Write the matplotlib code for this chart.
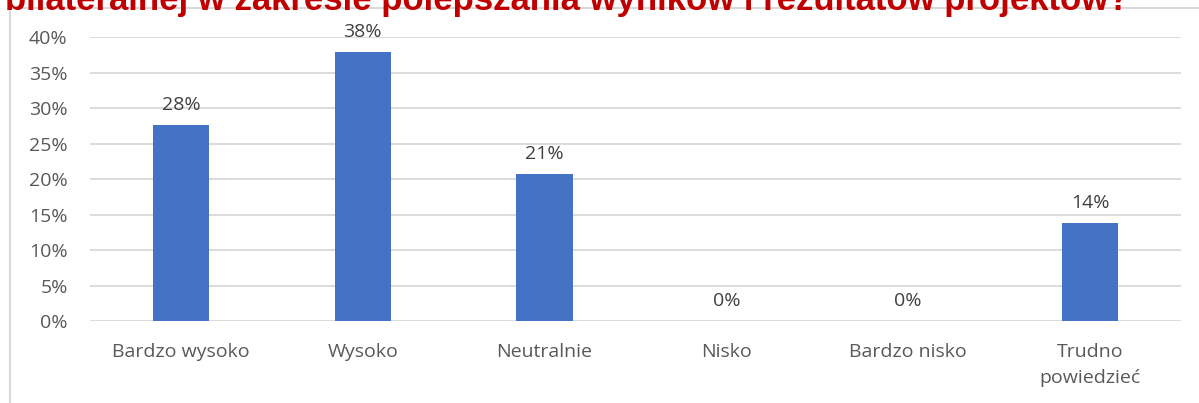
import matplotlib.pyplot as plt
from matplotlib.lines import Line2D
from matplotlib.ticker import PercentFormatter

categories = ["Bardzo wysoko", "Wysoko", "Neutralnie", "Nisko", "Bardzo nisko", "Trudno\npowiedzieć"]
shares = [27.6, 37.9, 20.7, 0.0, 0.0, 13.8]
yticks = [0, 5, 10, 15, 20, 25, 30, 35, 40]
title = "bilateralnej w zakresie polepszania wyników i rezultatów projektów?"

plt.rcParams["font.family"] = ["Open Sans", "DejaVu Sans"]

fig = plt.figure(figsize=(11.99, 4.03), dpi=100)
ax = fig.add_axes([0.075, 0.2035, 0.91, 0.7045])

x = range(len(categories))
bars = ax.bar(x, shares, width=0.31, color="#4472C4", zorder=3)

for xi, v in zip(x, shares):
    ax.annotate(f"{v:.0f}%", (xi, v), xytext=(0, 8), textcoords="offset points",
                ha="center", va="bottom", fontsize=14, color="#404040")

ax.set_xlim(-0.5, len(categories) - 0.5)
ax.set_ylim(0, 40)
ax.set_yticks(yticks)
ax.yaxis.set_major_formatter(PercentFormatter(decimals=0))
ax.set_xticks(list(x))
ax.set_xticklabels(categories, linespacing=1.55)
ax.tick_params(axis="both", length=0, labelsize=14, labelcolor="#595959")
ax.tick_params(axis="x", pad=16)
ax.tick_params(axis="y", pad=16)
ax.grid(axis="y", color="#d9d9d9", linewidth=1.3, zorder=0)
for s in ax.spines.values():
    s.set_visible(False)

# chart area border (left and top edges only)
fig.add_artist(Line2D([9.5 / 1199, 9.5 / 1199], [0, 1 - 7.5 / 403], color="#d9d9d9", linewidth=1.5))
fig.add_artist(Line2D([9.5 / 1199, 1], [1 - 7.5 / 403, 1 - 7.5 / 403], color="#d9d9d9", linewidth=1.5))

fig.text(5 / 1199, 1 - 10 / 403, title, color="#C00000", fontsize=25, fontweight="bold",
         family=["Liberation Sans", "DejaVu Sans"], ha="left", va="baseline")

fig.savefig("out.png", dpi=100, facecolor="white")
